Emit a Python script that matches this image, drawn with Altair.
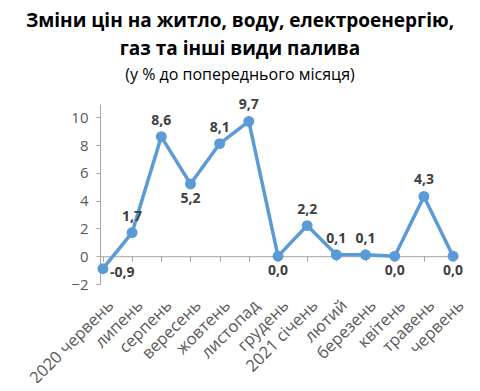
import altair as alt
import pandas as pd

months = ["2020 червень", "липень", "серпень", "вересень", "жовтень", "листопад",
          "грудень", "2021 січень", "лютий", "березень", "квітень", "травень", "червень"]
values = [-0.9, 1.7, 8.6, 5.2, 8.1, 9.7, 0.0, 2.2, 0.1, 0.1, 0.0, 4.3, 0.0]
label_pos = ["right", "above", "above", "below", "above", "above",
             "below", "above", "above", "above", "below", "above", "below"]
y_ticks = [-2, 0, 2, 4, 6, 8, 10]
y_min, y_max = -2, 10.95

df = pd.DataFrame({
    "month": months,
    "value": values,
    "pos": label_pos,
    "label": [f"{v:.1f}".replace(".", ",") for v in values],
})

W, H = 356, 180
FONT = "Open Sans"
BLUE = "#5B9BD5"
GRAY = "#595959"
AX = "#A6A6A6"

xscale = alt.Scale(type="point", domain=months, padding=0.1)
yscale = alt.Scale(domain=[y_min, y_max], nice=False, zero=False)
yaxis = alt.Axis(title=None, values=y_ticks, grid=False, domainColor=AX,
                 tickColor=AX, tickSize=4, labelFont=FONT, labelFontSize=15,
                 labelColor=GRAY, labelPadding=8, labelOverlap=False)

base = alt.Chart(df)

line = base.mark_line(color=BLUE, strokeWidth=3.5).encode(
    x=alt.X("month:N", scale=xscale, sort=months,
            axis=alt.Axis(title=None, orient="bottom", domain=False, ticks=False,
                          labelAngle=-45, labelFont=FONT, labelFontSize=16.5,
                          labelColor=GRAY, labelPadding=13, labelOffset=2)),
    y=alt.Y("value:Q", scale=yscale, axis=yaxis),
)

points = base.mark_circle(color=BLUE, size=120, opacity=1).encode(
    x=alt.X("month:N", scale=xscale, sort=months,
            axis=alt.Axis(title=None, orient="bottom", labels=False, domainColor=AX,
                          tickColor=AX, tickSize=5,
                          offset=-H * (0 - y_min) / (y_max - y_min))),
    y=alt.Y("value:Q", scale=yscale, axis=yaxis),
)

def lbl(pos, **kw):
    return base.transform_filter(alt.datum.pos == pos).mark_text(
        font=FONT, fontSize=14, fontWeight="bold", color="#404040", **kw
    ).encode(
        x=alt.X("month:N", scale=xscale, sort=months, axis=None),
        y=alt.Y("value:Q", scale=yscale, axis=yaxis),
        text="label:N",
    )

above = lbl("above", dy=-16, baseline="middle")
below = lbl("below", dy=15, baseline="middle")
right = lbl("right", dx=7, dy=4, align="left", baseline="middle")

chart = alt.layer(line, points, above, below, right).resolve_axis(x="independent").properties(
    width=W, height=H,
    autosize=alt.AutoSizeParams(type="none"),
    padding={"left": 92, "top": 96, "right": 16, "bottom": 99},
    title=alt.TitleParams(
        text=["Зміни цін на житло, воду, електроенергію,", "газ та інші види палива"],
        subtitle="(у % до попереднього місяця)",
        font=FONT, fontSize=19, fontWeight="bold", color="#000000", lineHeight=28,
        subtitleFont=FONT, subtitleFontSize=16, subtitleColor="#000000",
        subtitlePadding=8, anchor="middle", dx=-38, offset=15,
    ),
).configure_view(stroke=None)

chart.save("out.html", embed_options={"renderer": "svg", "actions": False})
